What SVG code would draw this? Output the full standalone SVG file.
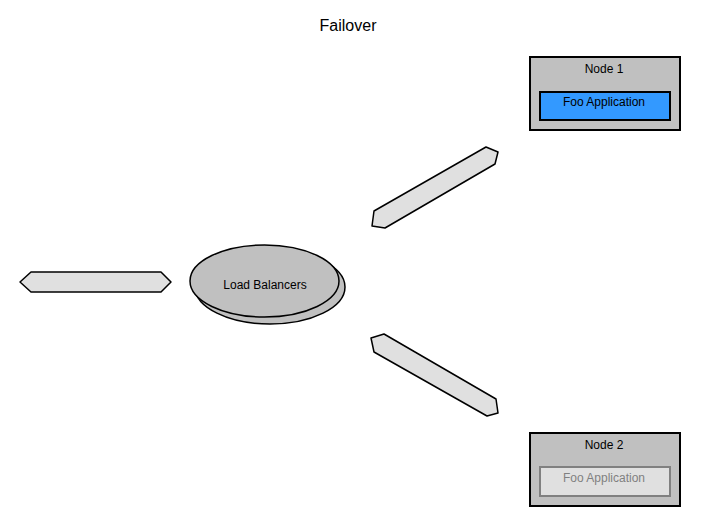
<svg xmlns="http://www.w3.org/2000/svg" width="701" height="529" viewBox="0 0 701 529">
<style>
text{font-family:"Liberation Sans",Arial,sans-serif;fill:#000;text-anchor:middle}
.title{font-size:16px}
.lbl{font-size:12px}
.node{fill:#c0c0c0;stroke:#000;stroke-width:2}
.app{fill:#3399ff;stroke:#000;stroke-width:2}
.appoff{fill:#e0e0e0;stroke:#808080;stroke-width:2}
.arrow{fill:#e0e0e0;stroke:#000;stroke-width:1.5;stroke-linejoin:round}
.lb{fill:#c0c0c0;stroke:#000;stroke-width:1.5}
</style>
<rect width="701" height="529" fill="#fff"/>
<text class="title" x="348" y="31">Failover</text>
<g id="connectors">
<polygon class="arrow" points="20,282 31,272 161,272 171,282 161,292 31,292"/>
<polygon class="arrow" points="486,147 498,152 495,164 385,228 372,226 374,211"/>
<polygon class="arrow" points="371,338 384,334 496,399 498,413 487,416 374,352"/>
</g>
<g id="loadbalancers">
<ellipse class="lb" cx="270" cy="287" rx="75" ry="37"/>
<ellipse class="lb" cx="264.5" cy="281" rx="74.5" ry="36"/>
<text class="lbl" x="265" y="289">Load Balancers</text>
</g>
<g id="node1">
<rect class="node" x="530" y="57" width="150" height="73"/>
<text class="lbl" x="604" y="73">Node 1</text>
<rect class="app" x="540" y="92" width="130" height="28"/>
<text class="lbl" x="604" y="106">Foo Application</text>
</g>
<g id="node2">
<rect class="node" x="530" y="433" width="150" height="73"/>
<text class="lbl" x="604" y="449">Node 2</text>
<rect class="appoff" x="540" y="467" width="130" height="29"/>
<text class="lbl" x="604" y="482" fill="#808080" style="fill:#808080">Foo Application</text>
</g>
</svg>
